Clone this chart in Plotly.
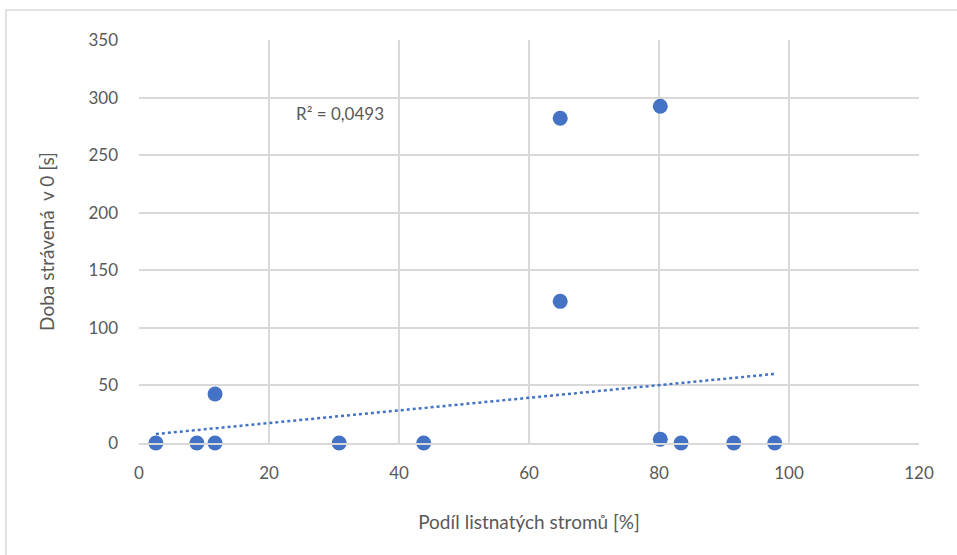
import plotly.graph_objects as go

# podíl listnatých stromů [%] vs. doba strávená v 0 [s]
podil = [2.6, 8.9, 11.7, 11.7, 30.8, 43.8, 64.8, 64.8, 80.2, 80.2, 83.4, 91.5, 97.8]
doba = [0, 0, 0, 42.5, 0, 0, 282, 123, 292.5, 3.2, 0, 0, 0]

# lineární spojnice trendu
trend_x = [2.6, 97.8]
trend_y = [7.8, 60.0]
r2_text = "R² = 0,0493"

modra = "#4472C4"
seda = "#595959"
mrizka = "#D9D9D9"

fig = go.Figure()
fig.add_trace(go.Scatter(
    x=trend_x, y=trend_y, mode="lines",
    line=dict(color=modra, width=2.5, dash="dot"),
    hoverinfo="skip", showlegend=False, cliponaxis=False
))
fig.add_trace(go.Scatter(
    x=podil, y=doba, mode="markers",
    marker=dict(color=modra, size=15),
    showlegend=False, cliponaxis=False
))

fig.add_annotation(
    x=23.8, y=286, text=r2_text, showarrow=False,
    xanchor="left", yanchor="middle",
    font=dict(size=17, color=seda)
)

# rámeček grafu
fig.add_shape(type="rect", xref="paper", yref="paper",
              x0=-0.1705, y0=-0.5, x1=1.2, y1=1.0744,
              line=dict(color="#D9D9D9", width=1.5), layer="below")

fig.update_xaxes(
    range=[0, 120], dtick=20, showgrid=True, gridcolor=mrizka, gridwidth=1.5,
    zeroline=False, showline=True, linecolor=mrizka, linewidth=1.5, mirror=False,
    ticks="", ticklabelstandoff=14,
    tickfont=dict(size=17, color=seda),
    title=dict(text="Podíl listnatých stromů [%]", font=dict(size=19, color=seda), standoff=34)
)
fig.update_yaxes(
    range=[0, 350], dtick=50, showgrid=True, gridcolor=mrizka, gridwidth=1.5,
    zeroline=False, showline=False,
    ticks="", ticklabelstandoff=20,
    tickfont=dict(size=17, color=seda),
    title=dict(text="Doba strávená  v 0 [s]", font=dict(size=19, color=seda), standoff=28)
)

fig.update_layout(
    width=957, height=555,
    margin=dict(l=139, r=38, t=40, b=112),
    paper_bgcolor="white", plot_bgcolor="white",
    font=dict(family="Lato, Open Sans, sans-serif", color=seda),
)

fig.write_html("out.html", config={"displayModeBar": False},
               post_script="document.body.style.margin='0';")
